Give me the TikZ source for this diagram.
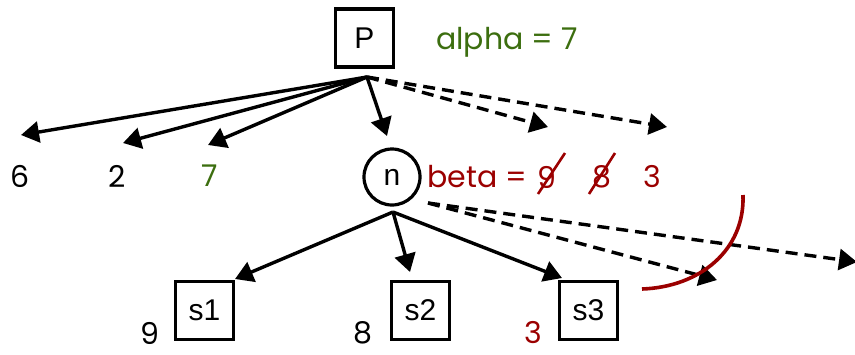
\documentclass[tikz,border=0pt]{standalone}
\usepackage{fontspec}
\setmainfont{Poppins}
\newfontfamily\boxfont{Liberation Sans}
\usetikzlibrary{arrows.meta}
\definecolor{agreen}{RGB}{60,110,15}
\definecolor{bred}{RGB}{155,0,0}
\begin{document}
\begin{tikzpicture}[x=1pt,y=-1pt,
  every node/.style={inner sep=0pt,font=\fontsize{30}{32}\selectfont},
  boxnode/.style={draw,line width=3.2pt,minimum width=58pt,minimum height=58pt,font=\boxfont\fontsize{30}{32}\selectfont},
  circnode/.style={draw,circle,line width=3.2pt,minimum size=56pt,font=\boxfont\fontsize{30}{32}\selectfont},
  edge/.style={line width=3.4pt,-{Triangle[length=18pt,width=21pt]}},
  dashedge/.style={edge,dash pattern=on 12pt off 7pt},
  strike/.style={bred,line width=2.6pt},
  cutarc/.style={bred,line width=3.6pt},
  val/.style={anchor=center}]
\useasboundingbox (0,0) rectangle (855,354);
\node[boxnode] (P) at (364.5,38) {P};
\node[circnode] (n) at (392,177) {n};
\node[boxnode] (s1) at (204.5,310.5) {s1};
\node[boxnode] (s2) at (420.5,310.5) {s2};
\node[boxnode] (s3) at (588.5,310.5) {s3};
\coordinate (po) at (367,77);
\coordinate (no) at (393,212);
\coordinate (t6) at (21,135);
\coordinate (t2) at (123,143);
\coordinate (t7) at (208,145);
\coordinate (tn) at (387,136);
\coordinate (d1) at (548,127);
\coordinate (d2) at (667,127);
\coordinate (ts1) at (235,279);
\coordinate (ts2) at (410,272);
\coordinate (ts3) at (562,278);
\coordinate (nd) at (428,203);
\coordinate (e1) at (717,280);
\coordinate (e2) at (857,262);
\node[val] (v6) at (20,176) {6};
\node[val] (v2) at (117,176) {2};
\node[val,text=agreen] (v7) at (210,176) {7};
\node[anchor=west,text=agreen] (alpha) at (436,42) {alpha = 7};
\node[anchor=west,text=bred] (beta) at (427,177) {beta =};
\node[val,text=bred] (b9) at (547,177) {9};
\node[val,text=bred] (b8) at (602,177) {8};
\node[val,text=bred] (b3) at (652,177) {3};
\node[val] (v9) at (150,333) {9};
\node[val] (v8) at (363,333) {8};
\node[val,text=bred] (v3) at (533,333) {3};
\draw[edge] (po) -- (t6);
\draw[edge] (po) -- (t2);
\draw[edge] (po) -- (t7);
\draw[edge] (po) -- (tn);
\draw[dashedge] (po) -- (d1);
\draw[dashedge] (po) -- (d2);
\draw[edge] (no) -- (ts1);
\draw[edge] (no) -- (ts2);
\draw[edge] (no) -- (ts3);
\draw[dashedge] (nd) -- (e1);
\draw[dashedge] (nd) -- (e2);
\coordinate (k9a) at (538,194);
\coordinate (k9b) at (565,153);
\coordinate (k8a) at (589,194);
\coordinate (k8b) at (615,153);
\draw[strike] (k9a) -- (k9b);
\draw[strike] (k8a) -- (k8b);
\coordinate (ca) at (743,195);
\coordinate (cb) at (642,289);
\draw[cutarc] (ca) .. controls (745,250) and (700,287) .. (cb);
\end{tikzpicture}
\end{document}
